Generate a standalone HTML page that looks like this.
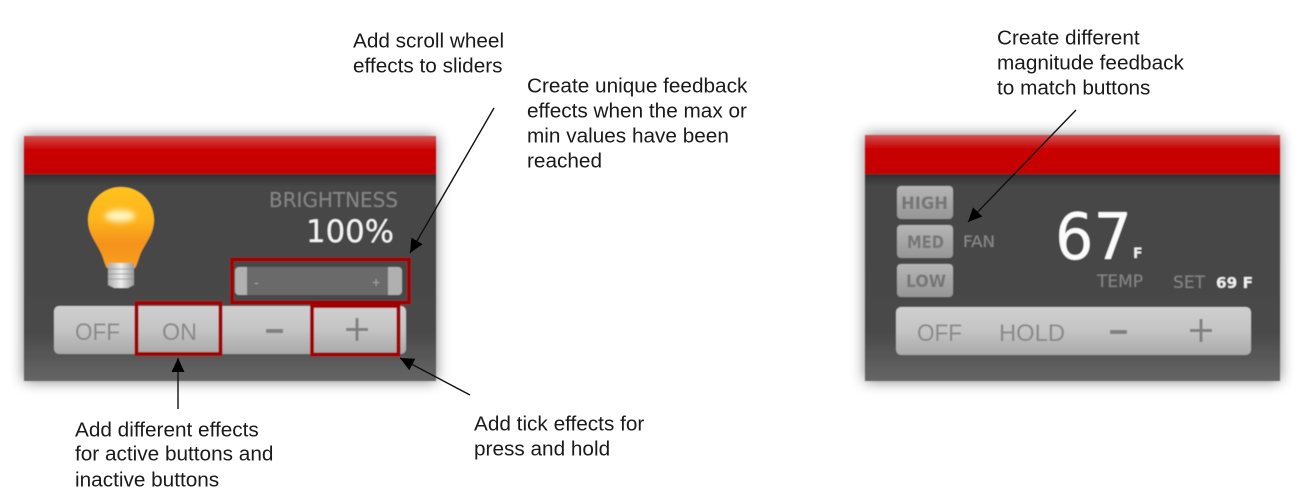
<!DOCTYPE html>
<html><head><meta charset="utf-8"><style>
html,body{margin:0;padding:0;background:#fff;width:1298px;height:492px;overflow:hidden}
svg{display:block}
.n{font-family:"Liberation Sans",sans-serif;font-size:20.75px;fill:#1a1a1a}
.u{font-family:"DejaVu Sans","Liberation Sans",sans-serif}
.b{font-family:"Liberation Sans",sans-serif}
</style></head><body>
<svg width="1298" height="492" viewBox="0 0 1298 492" xmlns="http://www.w3.org/2000/svg">
<defs>
<linearGradient id="red" x1="0" y1="0" x2="0" y2="1"><stop offset="0" stop-color="#d45050"/><stop offset=".35" stop-color="#c90404"/><stop offset="1" stop-color="#c40000"/></linearGradient>
<linearGradient id="dark" x1="0" y1="0" x2="0" y2="1"><stop offset="0" stop-color="#2f2f2f"/><stop offset=".06" stop-color="#474747"/><stop offset=".75" stop-color="#484848"/><stop offset="1" stop-color="#666"/></linearGradient>
<linearGradient id="btn" x1="0" y1="0" x2="0" y2="1"><stop offset="0" stop-color="#cfcfcf"/><stop offset=".5" stop-color="#c4c4c4"/><stop offset="1" stop-color="#a9a9a9"/></linearGradient>
<linearGradient id="sm" x1="0" y1="0" x2="0" y2="1"><stop offset="0" stop-color="#b5b5b5"/><stop offset="1" stop-color="#969696"/></linearGradient>
<linearGradient id="glass" x1="0" y1="0" x2="0" y2="1"><stop offset="0" stop-color="#ffc21e"/><stop offset=".4" stop-color="#fdb51f"/><stop offset=".7" stop-color="#f5921a"/><stop offset="1" stop-color="#f9a01c"/></linearGradient>
<linearGradient id="base" x1="0" y1="0" x2="1" y2="0"><stop offset="0" stop-color="#aaa"/><stop offset=".5" stop-color="#eee"/><stop offset="1" stop-color="#999"/></linearGradient>
<filter id="sh" x="-10%" y="-15%" width="120%" height="130%"><feGaussianBlur stdDeviation="7"/></filter>
<filter id="soft" x="-5%" y="-5%" width="110%" height="110%"><feGaussianBlur stdDeviation=".45"/></filter>
<filter id="glow" x="-50%" y="-100%" width="200%" height="300%"><feGaussianBlur stdDeviation="3"/></filter>
<marker id="ah" markerUnits="userSpaceOnUse" markerWidth="16" markerHeight="15" refX="14" refY="6.5" orient="auto"><path d="M0 0L14 6.5L0 13z" fill="#000"/></marker>
</defs>

<!-- Left panel -->
<rect x="24" y="136" width="412" height="245" fill="#000" opacity=".5" filter="url(#sh)"/>
<g filter="url(#soft)">
<rect x="24" y="174" width="412" height="207" fill="url(#dark)"/>
<rect x="24" y="136" width="412" height="38" fill="url(#red)"/>

<path d="M121 187C140 187 154 202 154 220C154 236 143 245 139 258C137 264 136 267 135 268H107C106 267 105 264 103 258C99 245 88 236 88 220C88 202 102 187 121 187Z" fill="url(#glass)"/>
<ellipse cx="120" cy="216" rx="15" ry="6" fill="#fff6c0" filter="url(#glow)"/>
<path d="M108 263H134V285L128 288H114L108 285Z" fill="url(#base)"/>
<g stroke="#8f8f8f" stroke-width="1" opacity=".7"><path d="M108 269H134M108 274H134M108 279H134"/></g>

<text x="398" y="207" text-anchor="end" class="u" font-size="20" fill="#858585" textLength="129" lengthAdjust="spacingAndGlyphs">BRIGHTNESS</text>
<text x="394" y="242" text-anchor="end" class="u" font-size="31" fill="#f4f4f4" textLength="88" lengthAdjust="spacingAndGlyphs">100%</text>

<rect x="235" y="267" width="167" height="28" rx="4" fill="#6b6b6b"/>
<path d="M247 267H239a4 4 0 0 0-4 4V291a4 4 0 0 0 4 4H247Z" fill="#b0b0b0"/>
<path d="M388 267H398a4 4 0 0 1 4 4V291a4 4 0 0 1-4 4H388Z" fill="#b0b0b0"/>
<text x="254" y="287" class="b" font-size="14" fill="#a5a5a5">-</text>
<text x="372" y="287" class="b" font-size="14" fill="#a5a5a5">+</text>

<rect x="54" y="306" width="352" height="48" rx="5" fill="url(#btn)"/>
<text x="75" y="340" class="b" font-size="24" fill="#888" textLength="45" lengthAdjust="spacingAndGlyphs">OFF</text>
<text x="162" y="340" class="b" font-size="24" fill="#888" textLength="35" lengthAdjust="spacingAndGlyphs">ON</text>
<rect x="266" y="329" width="17" height="4" fill="#808080"/>
<path d="M357 318V341M346 329.5H368" stroke="#808080" stroke-width="3" fill="none"/>

<g fill="none" stroke="#a00606" stroke-width="4">
<rect x="232" y="259.5" width="177" height="43"/>
<rect x="136.5" y="303" width="84" height="51"/>
<rect x="312" y="306" width="86.5" height="48.5"/>
</g>
</g>

<!-- Right panel -->
<rect x="865" y="135" width="415" height="246" fill="#000" opacity=".5" filter="url(#sh)"/>
<g filter="url(#soft)">
<rect x="865" y="174" width="415" height="207" fill="url(#dark)"/>
<rect x="865" y="135" width="415" height="39" fill="url(#red)"/>

<rect x="897" y="186" width="56" height="33" rx="4" fill="url(#sm)"/>
<rect x="897" y="225" width="56" height="33" rx="4" fill="url(#sm)"/>
<rect x="897" y="264" width="56" height="33" rx="4" fill="url(#sm)"/>
<g class="u" font-size="16.5" font-weight="bold" fill="#767676">
<text x="901" y="209" textLength="47" lengthAdjust="spacingAndGlyphs">HIGH</text>
<text x="907" y="248" textLength="37" lengthAdjust="spacingAndGlyphs">MED</text>
<text x="906" y="287" textLength="40" lengthAdjust="spacingAndGlyphs">LOW</text>
</g>
<text x="963" y="247" class="u" font-size="16" fill="#8a8a8a" textLength="32" lengthAdjust="spacingAndGlyphs">FAN</text>
<text x="1055" y="259" class="u" font-size="64" fill="#fbfbfb" textLength="77" lengthAdjust="spacingAndGlyphs">67</text>
<text x="1133" y="258" class="u" font-size="14" font-weight="bold" fill="#eee">F</text>
<text x="1097" y="287" class="u" font-size="17" fill="#858585" textLength="46" lengthAdjust="spacingAndGlyphs">TEMP</text>
<text x="1173" y="288" class="u" font-size="17" fill="#858585" textLength="32" lengthAdjust="spacingAndGlyphs">SET</text>
<text x="1216" y="288" class="u" font-size="15" font-weight="bold" fill="#f0f0f0" textLength="37" lengthAdjust="spacingAndGlyphs">69 F</text>

<rect x="896" y="307" width="355" height="48" rx="5" fill="url(#btn)"/>
<text x="917" y="341" class="b" font-size="24" fill="#888" textLength="45" lengthAdjust="spacingAndGlyphs">OFF</text>
<text x="999" y="341" class="b" font-size="24" fill="#888" textLength="66" lengthAdjust="spacingAndGlyphs">HOLD</text>
<rect x="1110" y="330" width="17" height="4" fill="#808080"/>
<path d="M1201 319V342M1190 330.5H1212" stroke="#808080" stroke-width="3" fill="none"/>
</g>

<!-- Arrows -->
<g stroke="#111" stroke-width="1.4" fill="none" marker-end="url(#ah)">
<line x1="494" y1="108" x2="410" y2="253"/>
<line x1="1076" y1="110" x2="968" y2="222"/>
<line x1="178" y1="409" x2="178" y2="358"/>
<line x1="470" y1="395" x2="400" y2="358"/>
</g>

<!-- Notes -->
<g class="n" transform="translate(0,.7)">
<text x="353" y="47">Add scroll wheel</text>
<text x="353" y="72">effects to sliders</text>
<text x="527" y="92">Create unique feedback</text>
<text x="527" y="117">effects when the max or</text>
<text x="527" y="142">min values have been</text>
<text x="527" y="167">reached</text>
<text x="997" y="44">Create different</text>
<text x="997" y="69">magnitude feedback</text>
<text x="997" y="94">to match buttons</text>
<text x="75" y="436">Add different effects</text>
<text x="75" y="460">for active buttons and</text>
<text x="75" y="486">inactive buttons</text>
<text x="474" y="430">Add tick effects for</text>
<text x="474" y="455">press and hold</text>
</g>
</svg>
</body></html>
